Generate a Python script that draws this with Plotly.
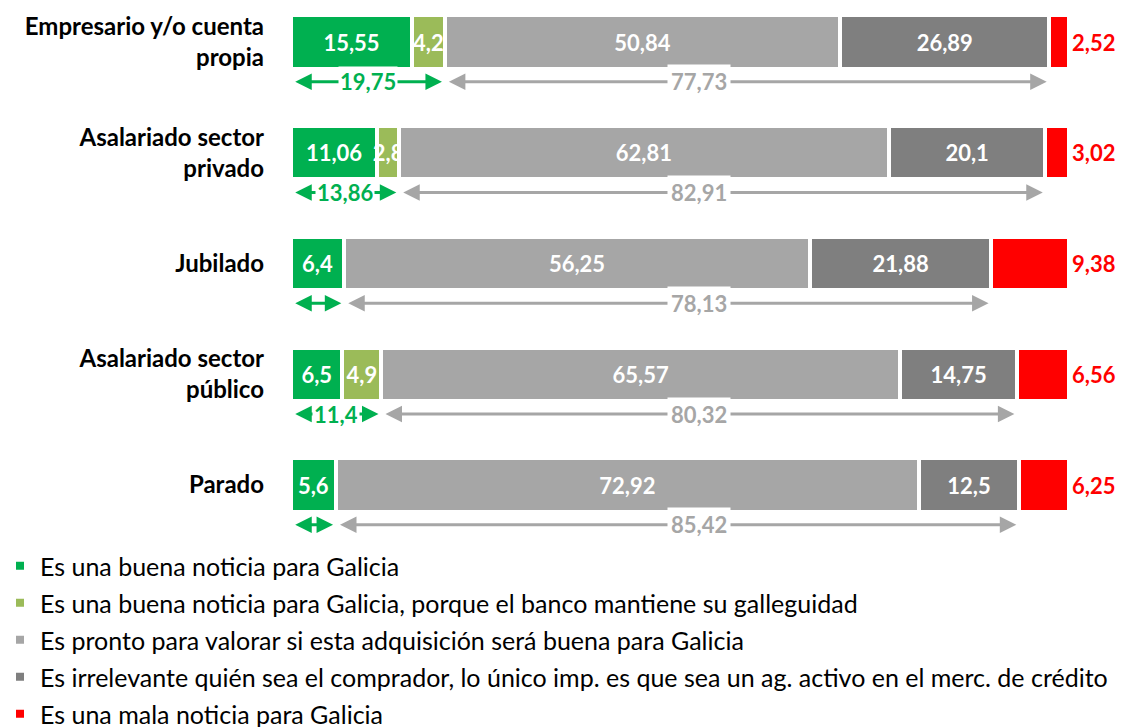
import plotly.graph_objects as go

# Survey answers by employment situation (percent of respondents)
categories = [
    "Empresario y/o cuenta<br>propia",
    "Asalariado sector<br>privado",
    "Jubilado",
    "Asalariado sector<br>público",
    "Parado",
]
buena = [15.55, 11.06, 6.4, 6.5, 5.6]
buena_galleguidad = [4.2, 2.8, None, 4.9, None]
pronto = [50.84, 62.81, 56.25, 65.57, 72.92]
irrelevante = [26.89, 20.1, 21.88, 14.75, 12.5]
mala = [2.52, 3.02, 9.38, 6.56, 6.25]

series_names = [
    "Es una buena noticia para Galicia",
    "Es una buena noticia para Galicia, porque el banco mantiene su galleguidad",
    "Es pronto para valorar si esta adquisición será buena para Galicia",
    "Es irrelevante quién sea el comprador, lo único imp. es que sea un ag. activo en el merc. de crédito",
    "Es una mala noticia para Galicia",
]
series_values = [buena, buena_galleguidad, pronto, irrelevante, mala]
series_colors = ["#00B050", "#9BBB59", "#A6A6A6", "#7F7F7F", "#FF0000"]

GREEN = "#00B050"
GREY = "#A6A6A6"
FONT = "Lato"
LABEL_SIZE = 22
SUM_LABEL_X = 52.5      # horizontal position of the grey total labels (percent axis)
ARROW_DY = 0.36         # offset of the total arrows below each bar (category units)
ARROW_INSET = 0.35      # keep arrow tips just inside the segment edges


def fmt(v):
    return f"{v:g}".replace(".", ",")


rows = list(range(len(categories)))
fig = go.Figure()

for i, (name, vals, col) in enumerate(zip(series_names, series_values, series_colors)):
    last = i == len(series_values) - 1
    fig.add_trace(go.Bar(
        name=name,
        y=rows,
        x=vals,
        orientation="h",
        width=0.48,
        marker=dict(color=col, line=dict(color="white", width=4)),
        text=[fmt(v) if v is not None else "" for v in vals],
        textposition="outside" if last else "inside",
        insidetextanchor="middle",
        textangle=0,
        constraintext="none",
        cliponaxis=False,
        textfont=dict(family=FONT, size=LABEL_SIZE, weight="bold",
                      color="#FF0000" if last else "white"),
        legendgroup=f"g{i}",
        hoverinfo="skip",
    ))

# Totals under each bar: green (good news) and grey (neutral answers)
annotations = []
for r in rows:
    parts = [v[r] or 0 for v in series_values]
    total = sum(parts)
    pct = [p / total * 100 for p in parts]
    green_end = pct[0] + pct[1]
    grey_start = green_end
    grey_end = grey_start + pct[2] + pct[3]
    yy = r + ARROW_DY

    for x0, x1, col in [(0, green_end, GREEN), (grey_start, grey_end, GREY)]:
        annotations.append(dict(
            x=x1 - ARROW_INSET, y=yy, ax=x0 + ARROW_INSET, ay=yy,
            xref="x", yref="y", axref="x", ayref="y",
            text="", showarrow=True,
            arrowhead=2, startarrowhead=2, arrowside="end+start",
            arrowsize=1.1, startarrowsize=1.1, arrowwidth=3,
            arrowcolor=col, standoff=0, startstandoff=0,
        ))

    if buena_galleguidad[r] is not None:
        annotations.append(dict(
            x=green_end / 2, y=yy, xref="x", yref="y", showarrow=False,
            text=fmt(round(buena[r] + buena_galleguidad[r], 2)),
            font=dict(family=FONT, size=LABEL_SIZE, weight="bold", color=GREEN),
            bgcolor="white", borderpad=1,
        ))
    annotations.append(dict(
        x=SUM_LABEL_X, y=yy, xref="x", yref="y", showarrow=False,
        text=fmt(round(pronto[r] + irrelevante[r], 2)),
        font=dict(family=FONT, size=LABEL_SIZE, weight="bold", color=GREY),
        bgcolor="white", borderpad=3,
    ))

# Category axis: row i sits at pixel 42 + 110.75 * i inside a 545 px tall plot area
plot_h = 545
step = 110.75
first = 42
fig.update_layout(
    width=1121, height=727,
    margin=dict(l=291, r=52, t=0, b=727 - plot_h, autoexpand=False),
    barmode="stack", barnorm="percent",
    plot_bgcolor="white", paper_bgcolor="white",
    annotations=annotations,
    xaxis=dict(visible=False, range=[0, 100], fixedrange=True, automargin=False),
    yaxis=dict(
        range=[(plot_h - first) / step, -first / step],
        tickvals=rows, ticktext=categories,
        showgrid=False, zeroline=False, showline=False, ticks="",
        ticklabelstandoff=26, automargin=False,
        tickfont=dict(family=FONT, size=24, weight="bold", color="black"),
    ),
    showlegend=True,
    legend=dict(
        xref="container", yref="container", x=0.0, y=1 - 543 / 727,
        xanchor="left", yanchor="top",
        traceorder="grouped", tracegroupgap=1.5,
        font=dict(family=FONT, size=25, color="black"),
        bgcolor="rgba(0,0,0,0)",
    ),
    font=dict(family=FONT),
)

fig.write_html("out.html")
